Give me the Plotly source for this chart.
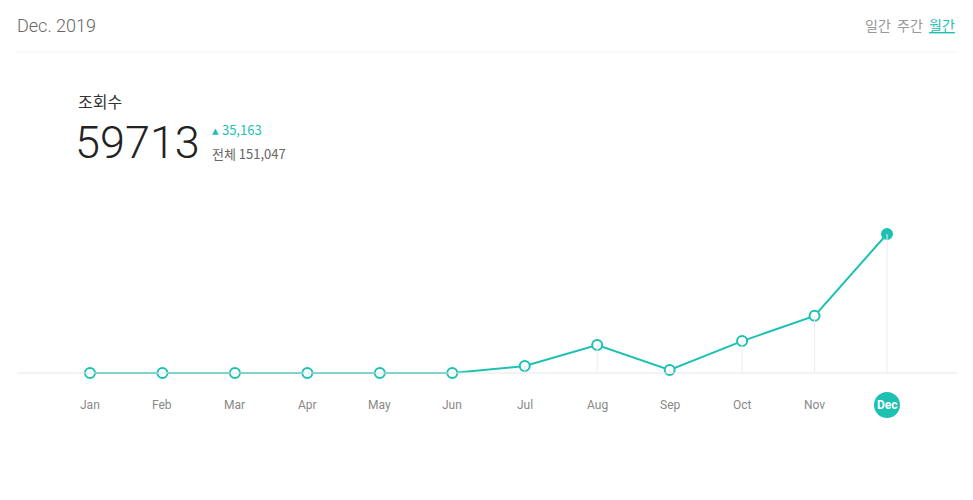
import plotly.graph_objects as go

months = ["Jan","Feb","Mar","Apr","May","Jun","Jul","Aug","Sep","Oct","Nov","Dec"]
views = [0, 0, 0, 0, 0, 0, 3000, 12000, 1300, 13700, 24550, 59713]

O = 8
W, H = 973 - 2 * O, 500 - 2 * O
TEAL = "#1cc1b2"
px = lambda y: 1 - (y - O) / H
xp = lambda x: (x - O) / W
xs = list(range(12))
scale = 429.6
base = 373 - O
ymin, ymax = -(H - base) * scale, base * scale
xu = (887 - 90) / 11
xr = [-(90 - O) / xu, 11 + (W + O - 887) / xu]

fig = go.Figure()
for i, v in enumerate(views):
    if v > 0:
        fig.add_shape(type="line", x0=i, x1=i, y0=0, y1=v, line=dict(color="#ececec", width=1))
fig.add_shape(type="line", xref="paper", x0=xp(17), x1=xp(957), y0=0, y1=0, line=dict(color="#e6e6e6", width=1))
fig.add_shape(type="line", xref="paper", yref="paper", x0=xp(17), x1=xp(957), y0=px(52), y1=px(52), line=dict(color="#f4f4f4", width=1))
fig.add_trace(go.Scatter(x=xs, y=views, mode="lines+markers",
    line=dict(color=TEAL, width=2),
    marker=dict(size=10, color=["white"]*11 + [TEAL], line=dict(color=TEAL, width=2)),
    hoverinfo="skip"))

def ann(x, y, text, size, color, xa="left", font="Noto Sans CJK KR", weight=None, xref="paper"):
    f = dict(size=size, color=color, family=font)
    if weight: f["weight"] = weight
    fig.add_annotation(x=x, y=px(y), xref=xref, yref="paper", text=text, showarrow=False,
                       xanchor=xa, yanchor="middle", font=f)

for i, m in enumerate(months):
    if m == "Dec":
        fig.add_shape(type="circle", x0=i - 13/xu, x1=i + 13/xu, yref="paper",
                      y0=px(418), y1=px(392), fillcolor=TEAL, line=dict(width=0))
        ann(i, 405, "<b>Dec</b>", 12, "white", xa="center", font="Roboto", xref="x")
    else:
        ann(i, 405, m, 12, "#888", xa="center", font="Roboto", xref="x")

ann(xp(15), 25, "Dec. 2019", 18, "#666", font="Roboto", weight=300)
ann(xp(957), 25, "<span style='color:#999'>일간</span>  <span style='color:#999'>주간</span>  <u>월간</u>", 14, TEAL, xa="right")
ann(xp(76), 101, "조회수", 16, "#333")
ann(xp(73), 142, "59713", 45, "#222", font="Roboto", weight=300)
ann(xp(210), 130, "▴ 35,163", 13, TEAL)
ann(xp(210), 153, "전체 151,047", 13, "#666")

fig.update_layout(width=W, height=H, margin=dict(l=0, r=0, t=0, b=0),
    paper_bgcolor="white", plot_bgcolor="white", showlegend=False,
    xaxis=dict(range=xr, visible=False, fixedrange=True),
    yaxis=dict(range=[ymin, ymax], visible=False, fixedrange=True))
fig.write_html("out.html")
